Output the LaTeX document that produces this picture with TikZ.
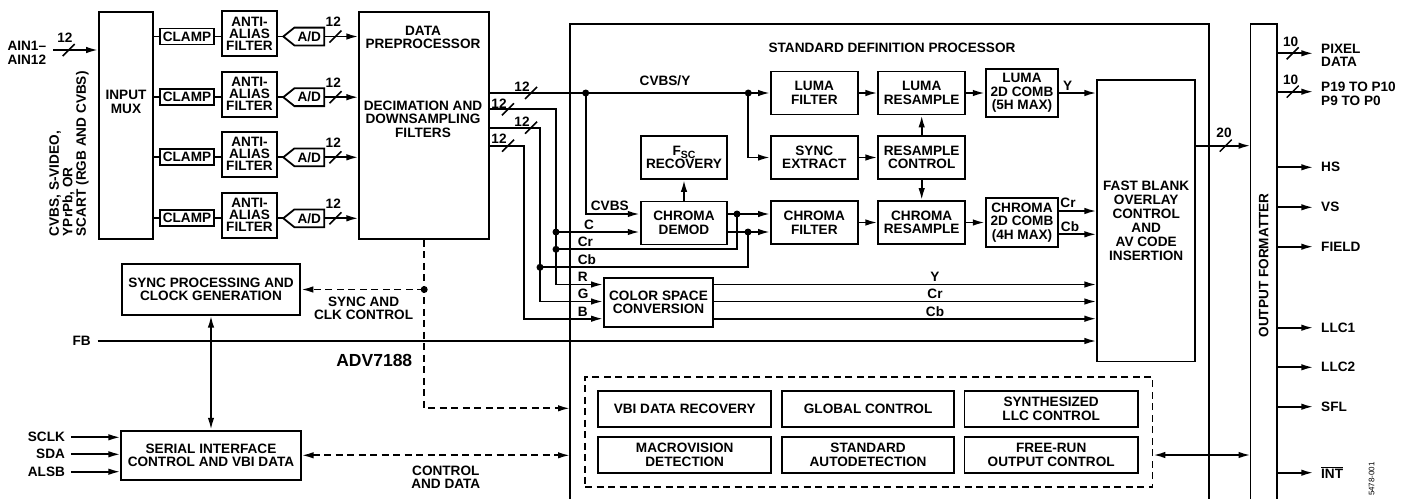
\documentclass[tikz,border=0pt]{standalone}
\usepackage{fontspec}
\setmainfont{Liberation Sans}
\usetikzlibrary{arrows.meta}
\newcommand{\busslash}[2]{\draw[line width=1.5pt] (#1-6,#2+6) -- (#1+6,#2-6);}
\begin{document}
\begin{tikzpicture}[x=1pt,y=-1pt,line width=1.8pt,
  every node/.style={font=\fontsize{13.6}{13.5}\selectfont\bfseries, inner sep=1pt, align=center},
  blk/.style={draw},
  arr/.style={-{Latex[length=12pt,width=6.5pt]}},
  darr/.style={{Latex[length=12pt,width=6.5pt]}-{Latex[length=12pt,width=6.5pt]}},
  dsh/.style={dash pattern=on 7pt off 4.5pt},
  dot/.style={circle, fill, inner sep=0pt, minimum size=7pt},
  lab/.style={anchor=base west},
]
\useasboundingbox (0,0) rectangle (1409,499);

% ---------------- input side
\node[blk, minimum width=54pt, minimum height=227pt] (mux) at (126,125.5) {};
\node (muxt) at (126,102) {INPUT\\MUX};
\node[anchor=east, inner xsep=6pt] (ain) at (53,53) {AIN1–\\AIN12};
\draw[arr] (ain.east |- 0,50) -- (mux.west |- 0,50);
\busslash{68.7}{50}
\node (bain) at (65,37.5) {12};
\node[rotate=90, anchor=west, align=left] (src) at (69,238) {CVBS, S-VIDEO,\\YPrPb, OR\\SCART (RGB AND CVBS)};

\node[blk, minimum width=129.7pt, minimum height=227pt] (dp) at (424.2,125.5) {};
\node (dpt1) at (423,37.5) {DATA\\PREPROCESSOR};
\node (dpt2) at (423,119) {DECIMATION AND\\DOWNSAMPLING\\FILTERS};

\foreach \i/\r in {1/36.5,2/97.2,3/157.3,4/218.3}{
  \node[blk, minimum width=54pt, minimum height=16pt] (cl\i) at (187,\r) {CLAMP};
  \node[blk, minimum width=55pt, minimum height=45pt, font=\fontsize{13.6}{12}\selectfont\bfseries] (aa\i) at (249.5,\r-3) {ANTI-\\ALIAS\\FILTER};
  \node[minimum width=28pt, minimum height=16pt] (ad\i) at (309.3,\r) {A/D};
  \coordinate (adt\i) at (283.3,\r);
  \draw (ad\i.north west) -- (ad\i.north east) -- (ad\i.south east) -- (ad\i.south west) -- (adt\i) -- cycle;
  \draw (mux.east |- cl\i.west) -- (cl\i.west);
  \draw (cl\i.east) -- (cl\i.east -| aa\i.west);
  \draw (aa\i.east |- adt\i) -- (adt\i);
  \draw[arr] (ad\i.east) -- (ad\i.east -| dp.west);
  \busslash{335.5}{\r}
  \node (bl\i) at (333.3,\r-14.5) {12};
}

% ---------------- standard definition processor outline
\coordinate (sdpl) at (570,24);
\coordinate (sdpr) at (1209.3,24);
\draw (sdpl |- 0,499) -- (sdpl) -- (sdpr) -- (sdpr |- 0,499);
\node (sdpt) at (892,48.3) {STANDARD DEFINITION PROCESSOR};

\node[blk, minimum width=86.7pt, minimum height=43pt] (lf) at (814.3,93) {LUMA\\FILTER};
\node[blk, minimum width=86.7pt, minimum height=43pt] (lr) at (921.7,93) {LUMA\\RESAMPLE};
\node[blk, minimum width=72.6pt, minimum height=48.3pt] (lc) at (1022,93) {LUMA\\2D COMB\\(5H MAX)};
\node[blk, minimum width=86.7pt, minimum height=43pt] (fsc) at (684,157.5) {F\raisebox{-3pt}{\fontsize{10.5}{10.5}\selectfont SC}\\RECOVERY};
\node[blk, minimum width=86.7pt, minimum height=43pt] (se) at (814.3,157.5) {SYNC\\EXTRACT};
\node[blk, minimum width=86.7pt, minimum height=43pt] (rc) at (921.7,157.5) {RESAMPLE\\CONTROL};
\node[blk, minimum width=86.7pt, minimum height=43pt] (cd) at (684,223) {CHROMA\\DEMOD};
\node[blk, minimum width=86.7pt, minimum height=43pt] (cf) at (814.3,222.5) {CHROMA\\FILTER};
\node[blk, minimum width=86.7pt, minimum height=43pt] (crs) at (921.7,222.5) {CHROMA\\RESAMPLE};
\node[blk, minimum width=72.6pt, minimum height=49pt] (cc) at (1022,222.5) {CHROMA\\2D COMB\\(4H MAX)};
\node[blk, minimum width=109pt, minimum height=48.7pt] (csc) at (658.5,302.3) {COLOR SPACE\\CONVERSION};
\node[blk, minimum width=97.7pt, minimum height=281.5pt, font=\fontsize{13.6}{14}\selectfont\bfseries] (fb) at (1146.2,220.7) {FAST BLANK\\OVERLAY\\CONTROL\\AND\\AV CODE\\INSERTION};

% junction dots
\node[dot] (j1) at (585.7,93) {};
\node[dot] (j2) at (748.3,93) {};
\node[dot] (jc) at (556,232) {};
\node[dot] (jr) at (556,249.3) {};
\node[dot] (jb) at (540,267.3) {};
\node[dot] (jo1) at (737,214) {};
\node[dot] (jo2) at (748,232) {};
\node[dot] (js) at (424.2,289.5) {};

% data preprocessor outputs
\draw (dp.east |- j1) -- (j1.center) -- (j2.center);
\draw[arr] (j2.center) -- (lf.west);
\draw[arr] (j2.center) |- (se.west);
\busslash{531}{93}
\node (bd1) at (522,86.7) {12};
\node (cvy) at (665,81) {CVBS/Y};

\draw[arr] (dp.east |- 0,109.3) -| (556,284.5) -- (csc.west |- 0,284.5);
\busslash{508}{109.3}
\node (bd2) at (499,103.5) {12};
\draw[arr] (dp.east |- 0,127.7) -| (540,301.5) -- (csc.west |- 0,301.5);
\busslash{531}{127.7}
\node (bd3) at (522,121.3) {12};
\draw[arr] (dp.east |- 0,145.7) -| (524,318.7) -- (csc.west |- 0,318.7);
\busslash{508}{145.7}
\node (bd4) at (499,139) {12};

\draw[arr] (j1.center) |- (cd.west |- jo1);
\draw[arr] (jc.center) -- (cd.west |- jc);
\draw (jr.center) -| (jo1.center);
\draw (jb.center) -| (jo2.center);
\node[lab] (tcvbs) at (589,210.5) {CVBS};
\node[anchor=base] (tc) at (589,229) {C};
\node[lab] (tcr) at (576,246.5) {Cr};
\node[lab] (tcb) at (576,264.5) {Cb};
\node[lab] (tr) at (576,281.7) {R};
\node[lab] (tg) at (576,298.7) {G};
\node[lab] (tb) at (576,316) {B};

% inner processing connections
\draw[arr] (cd.north) -- (fsc.south);
\draw[arr] (cd.east |- jo1) -- (cf.west |- jo1);
\draw[arr] (cd.east |- jo2) -- (cf.west |- jo2);
\draw[arr] (lf) -- (lr);
\draw[arr] (lr) -- (lc);
\draw[arr] (se) -- (rc);
\draw[arr] (rc) -- (lr);
\draw[arr] (rc) -- (crs);
\draw[arr] (cf) -- (crs);
\draw[arr] (crs) -- (cc);

\draw[arr] (lc.east) -- (fb.west |- lc.east);
\node (ty) at (1067.7,86) {Y};
\draw[arr] (cc.east |- 0,211) -- (fb.west |- 0,211);
\node (tccr) at (1068,203.3) {Cr};
\draw[arr] (cc.east |- 0,234.3) -- (fb.west |- 0,234.3);
\node (tccb) at (1070,226.7) {Cb};

\draw[arr] (csc.east |- 0,284.5) -- (fb.west |- 0,284.5);
\node (tsy) at (935,277.3) {Y};
\draw[arr] (csc.east |- 0,301.5) -- (fb.west |- 0,301.5);
\node (tscr) at (935,294.3) {Cr};
\draw[arr] (csc.east |- 0,318.7) -- (fb.west |- 0,318.7);
\node (tscb) at (935,312) {Cb};

\node[anchor=east, inner xsep=6pt] (fbl) at (97.6,341) {FB};
\draw[arr] (fbl.east) -- (fb.west |- fbl.east);

% ---------------- dashed control block
\node[draw, dsh, minimum width=567.4pt, minimum height=110pt] (dbox) at (868.7,431.7) {};
\node[blk, minimum width=173pt, minimum height=36pt] (vbi) at (684.7,408.7) {VBI DATA RECOVERY};
\node[blk, minimum width=172.2pt, minimum height=36pt] (glob) at (868.1,408.7) {GLOBAL CONTROL};
\node[blk, minimum width=173.4pt, minimum height=36pt] (llc) at (1051.2,408.7) {SYNTHESIZED\\LLC CONTROL};
\node[blk, minimum width=173pt, minimum height=36.6pt] (mv) at (684.7,455) {MACROVISION\\DETECTION};
\node[blk, minimum width=172.2pt, minimum height=36.6pt] (sad) at (868.1,455) {STANDARD\\AUTODETECTION};
\node[blk, minimum width=173.4pt, minimum height=36.6pt] (frun) at (1051.2,455) {FREE-RUN\\OUTPUT CONTROL};

% ---------------- left lower blocks
\node[blk, minimum width=178.7pt, minimum height=50.4pt] (sp) at (211,289.5) {SYNC PROCESSING AND\\CLOCK GENERATION};
\node[blk, minimum width=179.4pt, minimum height=49.3pt] (si) at (211,455.3) {SERIAL INTERFACE\\CONTROL AND VBI DATA};
\draw[darr] (sp.south) -- (si.north);
\draw[dsh,arr] (dp.south) |- (sdpl |- 0,408.3);
\draw[dsh,arr] (js.center) -- (sp.east |- js);
\node (syt) at (363.6,308.3) {SYNC AND\\CLK CONTROL};
\draw[dsh,darr] (si.east) -- (sdpl |- si.east);
\node (cdt) at (445.8,477) {CONTROL\\AND DATA};
\node[font=\fontsize{17.5}{17.5}\selectfont\bfseries] (chip) at (374.3,360.7) {ADV7188};
\foreach \n/\y in {SCLK/437.3,SDA/454.3,ALSB/471.7}{
  \node[anchor=east, inner xsep=5pt] (\n) at (70.8,\y) {\n};
  \draw[arr] (\n.east) -- (si.west |- \n.east);
}

% ---------------- output formatter
\coordinate (ofl) at (1250.5,24);
\coordinate (ofr) at (1276.7,24);
\draw (ofl |- 0,499) -- (ofl) -- (ofr) -- (ofr |- 0,499);
\node[rotate=90] (oft) at (1263.6,265.5) {OUTPUT FORMATTER};
\draw[arr] (fb.east |- 0,145.7) -- (ofl |- 0,145.7);
\busslash{1225.7}{145.7}
\node (b20) at (1224,132.7) {20};
\draw[darr] (dbox.east |- 0,455) -- (ofl |- 0,455);

\node[anchor=west, align=left, inner xsep=7pt] (opd) at (1313.3,55.5) {PIXEL\\DATA};
\node[anchor=west, align=left, inner xsep=7pt] (opp) at (1313.3,94) {P19 TO P10\\P9 TO P0};
\draw[arr] (ofr |- 0,53.3) -- (opd.west |- 0,53.3);
\busslash{1292.7}{53.3}
\node (b10a) at (1290.7,41.7) {10};
\draw[arr] (ofr |- 0,91.7) -- (opp.west |- 0,91.7);
\busslash{1292.7}{91.7}
\node (b10b) at (1290.7,80) {10};
\foreach \n/\y/\t in {hs/167.3/HS,vs/207.3/VS,fld/246.7/FIELD,l1/327.7/LLC1,l2/367.3/LLC2,sfl/406.7/SFL,int/472.7/{$\overline{\hbox{INT}}$}}{
  \node[anchor=west, inner xsep=7pt] (o\n) at (1313.3,\y) {\t};
  \draw[arr] (ofr |- o\n) -- (o\n.west);
}
\node[rotate=90, font=\fontsize{8}{8}\selectfont] (code) at (1371.7,479) {5478-001};
\end{tikzpicture}
\end{document}
